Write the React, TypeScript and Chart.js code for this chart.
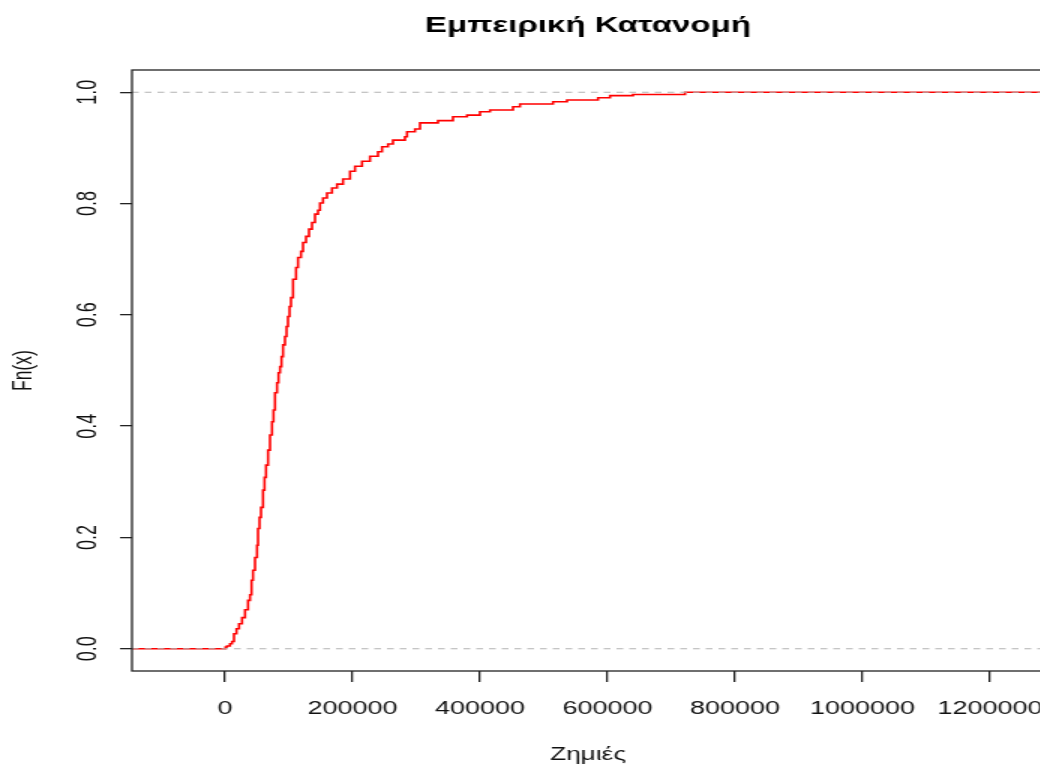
import { useEffect, useRef } from "react";
import { Chart, registerables } from "chart.js";

Chart.register(...registerables);

// Empirical CDF of the losses: step positions and cumulative share at each step
const lossKnots = [
  800, 3100, 7800, 11000, 14100, 18000, 22000, 26700, 31400, 36100, 39200, 41600,
  43900, 47100, 50200, 51800, 54100, 56500, 59600, 62000, 64300, 67500, 70600,
  73700, 76100, 78400, 81600, 83900, 86300, 88600, 91000, 94100, 96500, 98800,
  101200, 103500, 106700, 111400, 114500, 119200, 122400, 127100, 131800, 136500,
  141200, 145900, 149000, 153700, 160000, 167800, 175700, 185100, 196100, 203900,
  214900, 227400, 240000, 246300, 255700, 263500, 282300, 285500, 298000, 305900,
  334100, 357600, 379600, 400000, 415700, 451800, 462700, 514500, 536500, 585100,
  603900, 640000, 721600,
];
const cumProb = [
  0.003, 0.005, 0.009, 0.013, 0.027, 0.036, 0.045, 0.056, 0.07, 0.087, 0.097, 0.123,
  0.141, 0.164, 0.186, 0.216, 0.236, 0.254, 0.285, 0.308, 0.33, 0.357, 0.384,
  0.408, 0.429, 0.46, 0.478, 0.496, 0.507, 0.525, 0.546, 0.561, 0.579, 0.597,
  0.615, 0.631, 0.664, 0.685, 0.703, 0.714, 0.73, 0.741, 0.754, 0.766,
  0.781, 0.788, 0.801, 0.81, 0.819, 0.828, 0.835, 0.844, 0.858, 0.867,
  0.876, 0.885, 0.893, 0.902, 0.907, 0.914, 0.92, 0.929, 0.934, 0.945,
  0.949, 0.956, 0.959, 0.965, 0.968, 0.974, 0.979, 0.983, 0.986, 0.99,
  0.994, 0.996, 1.0,
];

const xTickValues = [0, 200000, 400000, 600000, 800000, 1000000, 1200000];
const yTickValues = [0, 0.2, 0.4, 0.6, 0.8, 1.0];
const referenceLevels = [0, 1];

const xLimits = [-145900, 1284700];
const yLimits = [-0.04, 1.04];

const FONT = "'Liberation Sans', Arial, sans-serif";
const TEXT_COLOR = "#111";
const AXIS_COLOR = "#222";

// Box around the plotting region
const plotFrame = {
  id: "plotFrame",
  afterDatasetsDraw(chart: any) {
    const { ctx, chartArea } = chart;
    const { left, top, right, bottom } = chartArea;
    ctx.save();
    ctx.strokeStyle = AXIS_COLOR;
    ctx.lineWidth = 1.3;
    ctx.strokeRect(left, top, right - left, bottom - top);
    ctx.restore();
  },
};

export default function App() {
  const canvasRef = useRef<HTMLCanvasElement>(null);

  useEffect(() => {
    const canvas = canvasRef.current;
    if (!canvas) return;

    const ecdfPoints = [
      { x: xLimits[0], y: 0 },
      ...lossKnots.map((x, i) => ({ x, y: cumProb[i] })),
      { x: xLimits[1], y: 1 },
    ];

    const guideSets = referenceLevels.map((level) => ({
      label: `level ${level}`,
      data: [
        { x: xLimits[0], y: level },
        { x: xLimits[1], y: level },
      ],
      borderColor: "#b3b3b3",
      borderWidth: 1.2,
      borderDash: [4.5, 4],
      pointRadius: 0,
      fill: false,
      order: 0,
    }));

    const chart = new Chart(canvas, {
      type: "line",
      data: {
        datasets: [
          ...guideSets,
          {
            label: "Fn(x)",
            data: ecdfPoints,
            stepped: "before",
            borderColor: "#ff0000",
            borderWidth: 1.6,
            pointRadius: 0,
            fill: false,
            order: 1,
          },
        ],
      },
      options: {
        responsive: false,
        animation: false,
        devicePixelRatio: 1,
        layout: { padding: 0 },
        plugins: {
          legend: { display: false },
          tooltip: { enabled: false },
          title: {
            display: true,
            text: "Εμπειρική Κατανομή",
            color: "#000",
            font: { family: FONT, size: 22, weight: "bold" },
            padding: { top: 13, bottom: 30.6 },
          },
        },
        scales: {
          x: {
            type: "linear",
            min: xLimits[0],
            max: xLimits[1],
            afterBuildTicks: (axis: any) => {
              axis.ticks = xTickValues.map((value) => ({ value }));
            },
            afterFit: (axis: any) => {
              axis.height = 93;
            },
            grid: {
              drawOnChartArea: false,
              drawTicks: true,
              tickLength: 11,
              color: AXIS_COLOR,
              lineWidth: 1.3,
            },
            border: { display: false },
            ticks: {
              color: TEXT_COLOR,
              font: { family: FONT, size: 18 },
              padding: 16,
              maxRotation: 0,
              minRotation: 0,
              autoSkip: false,
              callback: (value: any) => String(value),
            },
            title: {
              display: true,
              text: "Ζημιές",
              color: TEXT_COLOR,
              font: { family: FONT, size: 17.5 },
              padding: { top: 0, bottom: -2 },
            },
          },
          y: {
            type: "linear",
            min: yLimits[0],
            max: yLimits[1],
            afterBuildTicks: (axis: any) => {
              axis.ticks = yTickValues.map((value) => ({ value }));
            },
            afterFit: (axis: any) => {
              axis.width = 88;
            },
            grid: {
              drawOnChartArea: false,
              drawTicks: true,
              tickLength: 8,
              color: AXIS_COLOR,
              lineWidth: 1.3,
            },
            border: { display: false },
            ticks: {
              color: TEXT_COLOR,
              font: { family: FONT, size: 18 },
              padding: 8,
              minRotation: 90,
              maxRotation: 90,
              crossAlign: "center",
              autoSkip: false,
              callback: (value: any) => Number(value).toFixed(1),
            },
            title: {
              display: true,
              text: "Fn(x)",
              color: TEXT_COLOR,
              font: { family: FONT, size: 17.5 },
              padding: { top: 6, bottom: 0 },
            },
          },
          // empty right margin, keeps the plot region where the title centres on it
          yMargin: {
            type: "linear",
            position: "right",
            display: true,
            afterFit: (axis: any) => {
              axis.width = 88;
            },
            grid: { display: false },
            border: { display: false },
            ticks: { display: false },
          },
        },
      },
      plugins: [plotFrame],
    } as any);

    return () => chart.destroy();
  }, []);

  return (
    <div
      style={{
        position: "fixed",
        left: 0,
        top: 0,
        width: 1040,
        height: 764,
        overflow: "hidden",
        background: "#fff",
      }}
    >
      <canvas
        ref={canvasRef}
        width={784}
        height={764}
        style={{
          display: "block",
          width: "784px",
          height: "764px",
          transform: "scaleX(1.5)",
          transformOrigin: "0 0",
        }}
      />
    </div>
  );
}
